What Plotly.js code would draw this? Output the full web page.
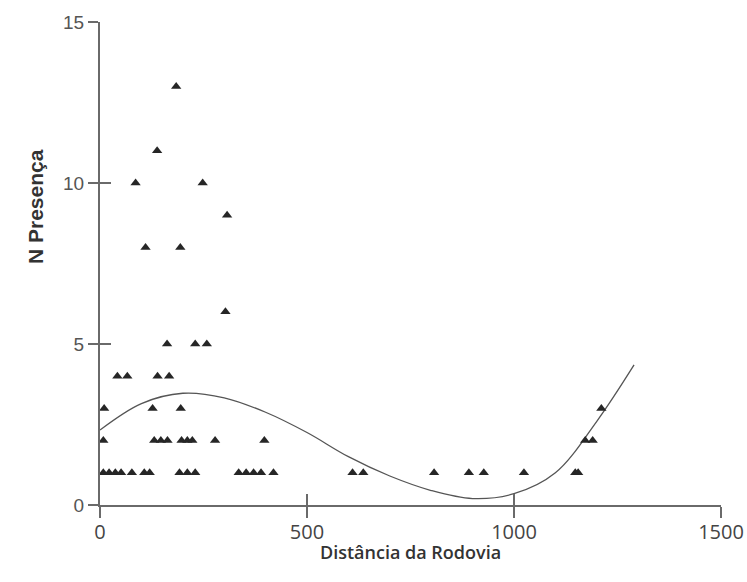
<!DOCTYPE html>
<html>
<head>
<meta charset="utf-8">
<script src="https://cdn.plot.ly/plotly-3.0.1.min.js"></script>
<style>
  html, body { margin: 0; padding: 0; background: #ffffff; }
  #chart { width: 747px; height: 582px; }
</style>
</head>
<body>
<div id="chart"></div>
<script>
// Observed points: distance from highway vs number of presences
const distancia = [
  184,
  138,
  86, 248,
  307,
  110, 194,
  303,
  162, 230, 258,
  42, 66, 139, 167,
  10, 127, 195, 1211,
  8, 131, 147, 163, 197, 211, 223, 278, 397, 1172, 1190,
  8, 22, 37, 51, 77, 107, 120, 192, 211, 230, 335, 353, 371, 389, 419,
  610, 636, 807, 891, 927, 1024, 1148, 1155
];
const presenca = [
  13,
  11,
  10, 10,
  9,
  8, 8,
  6,
  5, 5, 5,
  4, 4, 4, 4,
  3, 3, 3, 3,
  2, 2, 2, 2, 2, 2, 2, 2, 2, 2, 2,
  1, 1, 1, 1, 1, 1, 1, 1, 1, 1, 1, 1, 1, 1, 1,
  1, 1, 1, 1, 1, 1, 1, 1
];

// Trend curve
const curvaX = [0, 100, 200, 300, 400, 500, 600, 700, 800, 900, 1000, 1100, 1200, 1290];
const curvaY = [2.33, 3.15, 3.47, 3.33, 2.88, 2.25, 1.5, 0.9, 0.45, 0.2, 0.35, 1.0, 2.6, 4.35];

// Tick labels
const xTicks = [0, 500, 1000, 1500];
const yTicks = [0, 5, 10, 15];

const xTitle = 'Distância da Rodovia';
const yTitle = 'N Presença';

const axisColor = '#6a6a6a';

const traces = [
  {
    x: curvaX, y: curvaY, type: 'scatter', mode: 'lines',
    line: { color: '#555555', width: 1.3, shape: 'spline', smoothing: 1 },
    hoverinfo: 'skip', showlegend: false
  },
  {
    x: distancia, y: presenca, type: 'scatter', mode: 'markers',
    marker: { symbol: 'triangle-up', size: 9, color: '#262626' },
    cliponaxis: false, showlegend: false
  },
  // empty traces that only activate the overlay axes (inner half of the ticks)
  { x: [], y: [], xaxis: 'x2', yaxis: 'y', type: 'scatter', mode: 'markers',
    showlegend: false, hoverinfo: 'skip' },
  { x: [], y: [], xaxis: 'x', yaxis: 'y2', type: 'scatter', mode: 'markers',
    showlegend: false, hoverinfo: 'skip' }
];

const layout = {
  width: 747, height: 582,
  paper_bgcolor: '#ffffff', plot_bgcolor: '#ffffff',
  margin: { l: 100, r: 26, t: 22, b: 77 },
  showlegend: false,
  xaxis: {
    range: [0, 1500], tickvals: xTicks, ticktext: xTicks.map(String),
    showline: true, linecolor: axisColor, linewidth: 2,
    ticks: 'outside', ticklen: 11, tickwidth: 2, tickcolor: axisColor,
    showgrid: false, zeroline: false, ticklabelstandoff: -3,
    tickfont: { family: 'Open Sans', size: 20, color: '#444444' }
  },
  xaxis2: {
    range: [0, 1500], tickvals: xTicks, overlaying: 'x', anchor: 'y', side: 'bottom',
    ticks: 'inside', ticklen: 11, tickwidth: 2, tickcolor: axisColor,
    showticklabels: false, showline: false, showgrid: false, zeroline: false
  },
  yaxis: {
    range: [0, 15], tickvals: yTicks, ticktext: yTicks.map(String),
    showline: true, linecolor: axisColor, linewidth: 2,
    ticks: 'outside', ticklen: 10, tickwidth: 2, tickcolor: axisColor,
    showgrid: false, zeroline: false,
    tickfont: { family: 'Liberation Sans, Arial, sans-serif', size: 19, color: '#555555' }
  },
  yaxis2: {
    range: [0, 15], tickvals: yTicks, overlaying: 'y', anchor: 'x', side: 'left',
    ticks: 'inside', ticklen: 11, tickwidth: 2, tickcolor: axisColor,
    showticklabels: false, showline: false, showgrid: false, zeroline: false
  },
  annotations: [
    {
      text: '<b>' + yTitle + '</b>', xref: 'paper', yref: 'paper',
      x: -0.103, y: 0.617, xanchor: 'center', yanchor: 'middle',
      textangle: -90, showarrow: false,
      font: { family: 'Liberation Sans, Arial, sans-serif', size: 21, color: '#333333' }
    },
    {
      text: xTitle, xref: 'paper', yref: 'paper',
      x: 0.5, y: -0.097, xanchor: 'center', yanchor: 'middle', showarrow: false,
      font: { family: 'Open Sans', size: 18, color: '#333333', weight: 600 }
    }
  ]
};

Plotly.newPlot('chart', traces, layout, { displayModeBar: false, staticPlot: true });
</script>
</body>
</html>
